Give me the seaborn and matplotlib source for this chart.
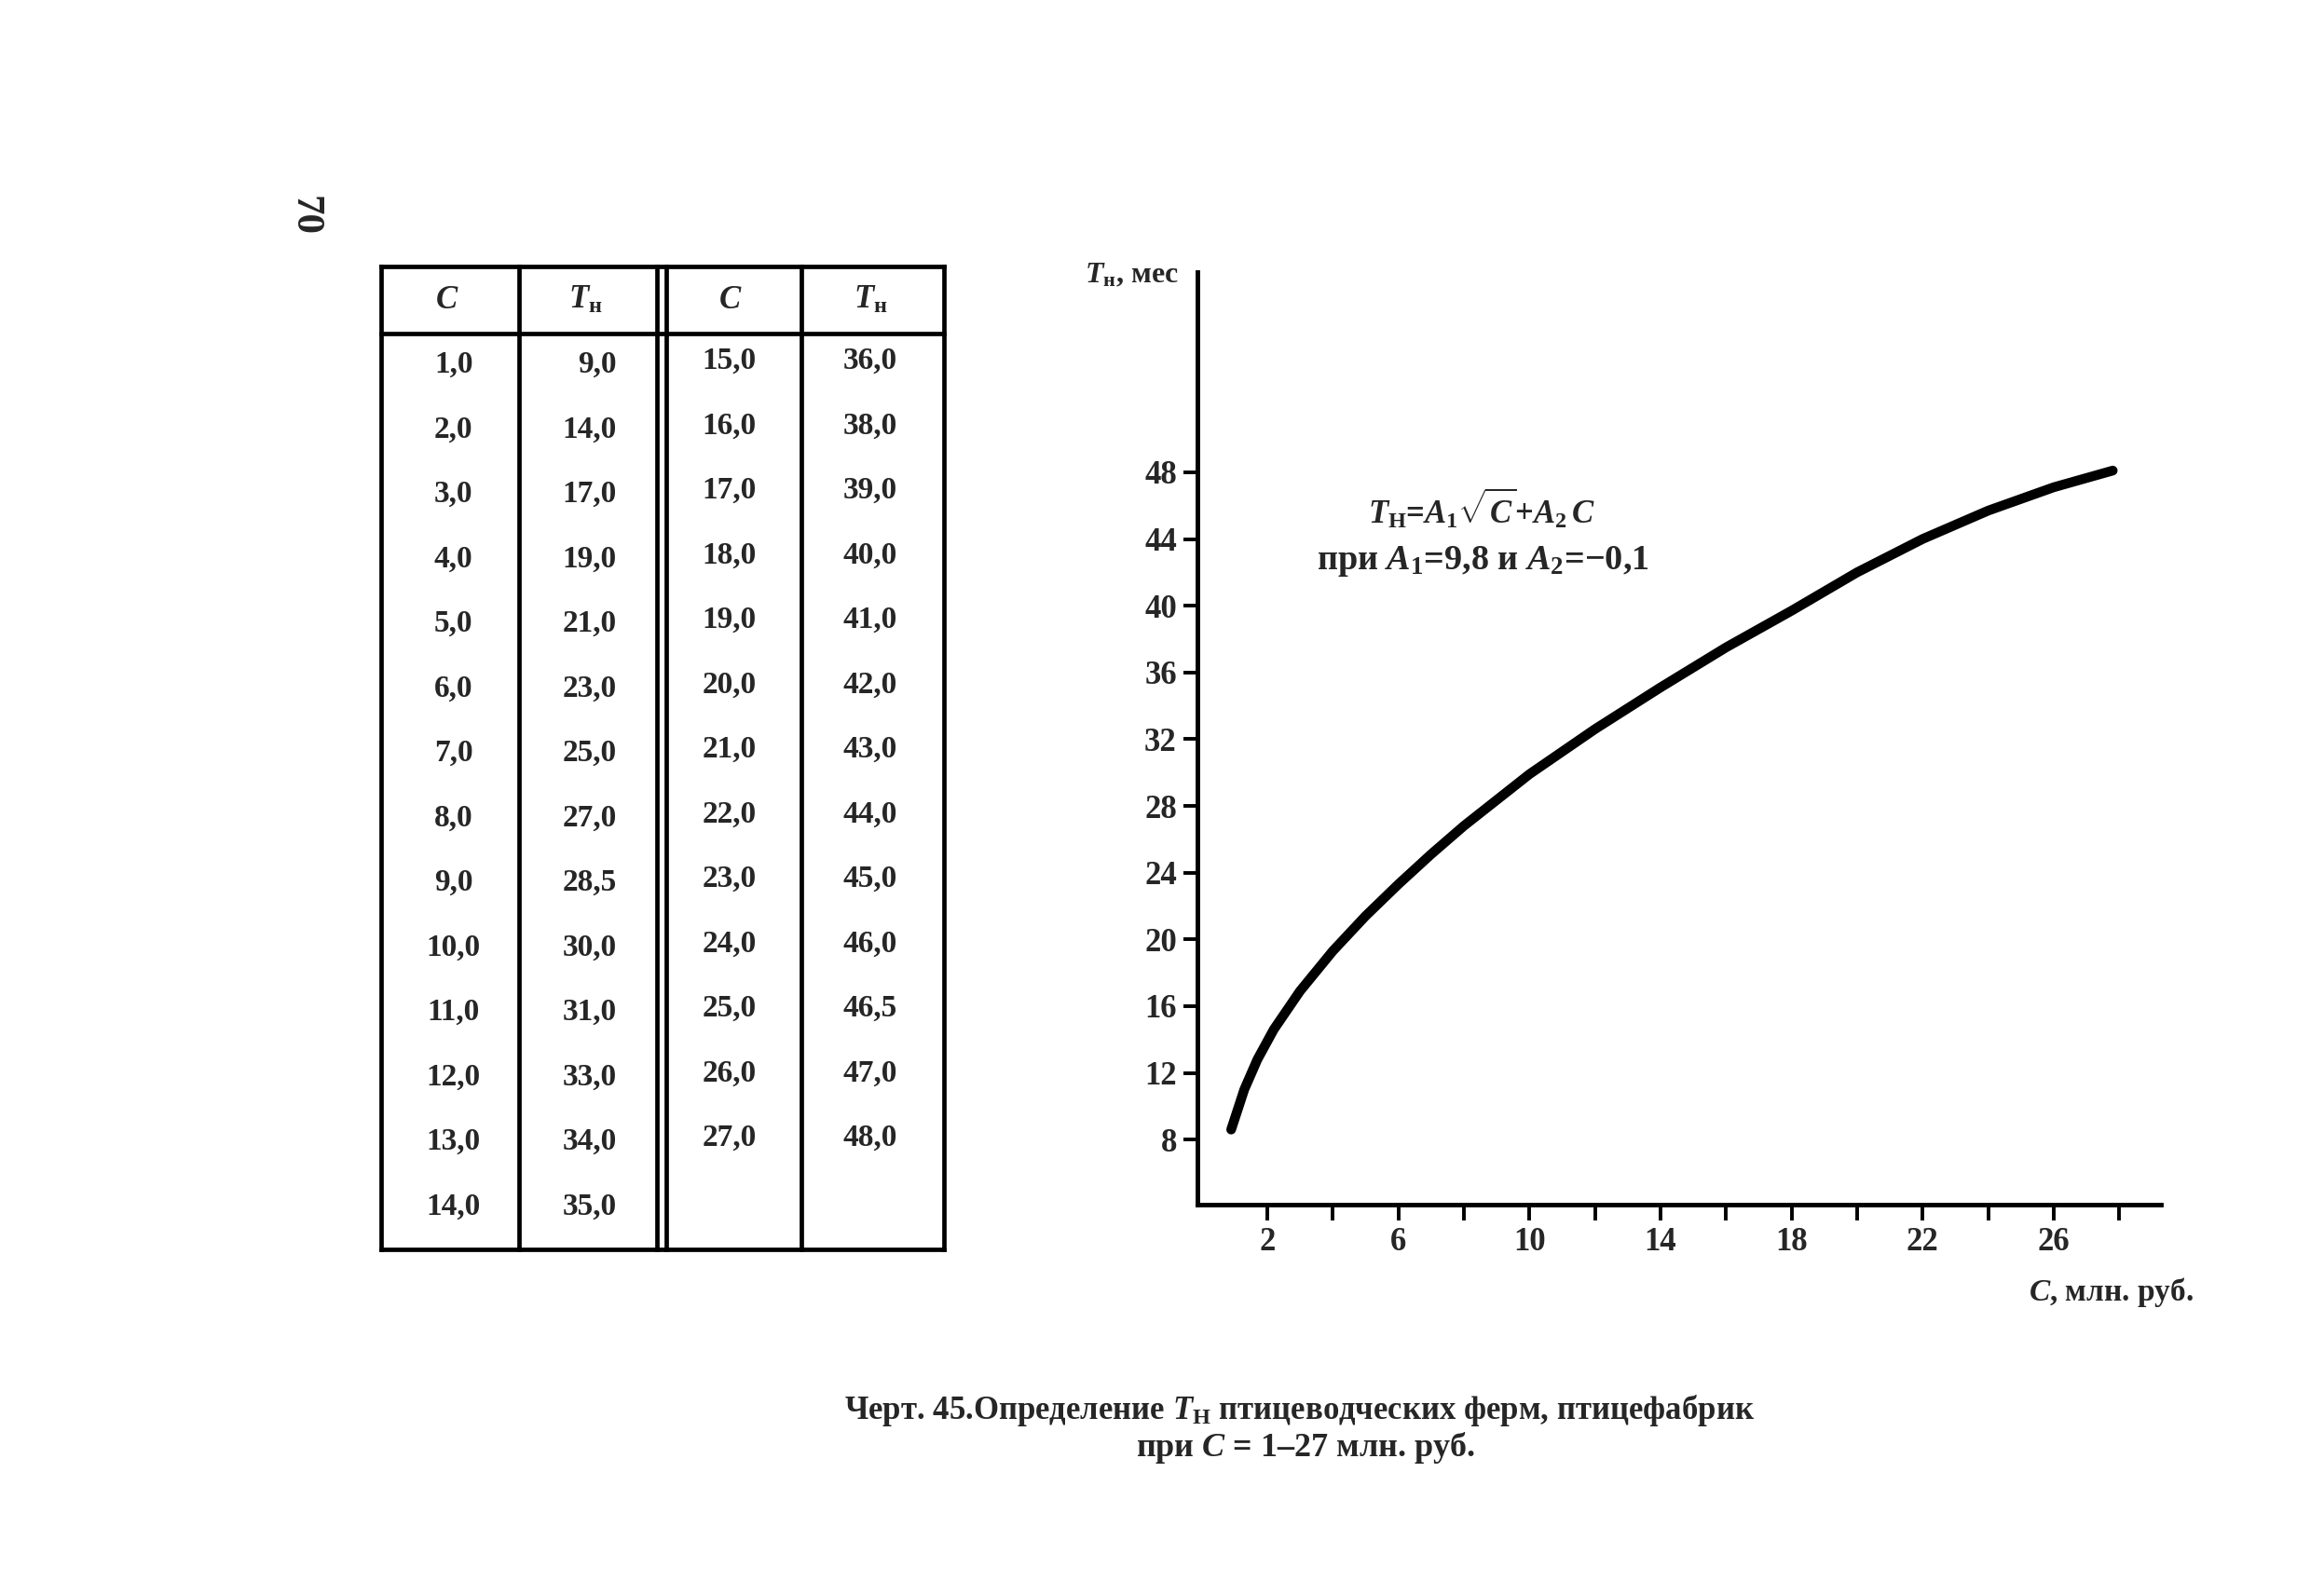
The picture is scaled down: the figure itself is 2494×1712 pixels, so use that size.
import matplotlib
matplotlib.use("Agg")
import matplotlib.pyplot as plt
import seaborn as sns
import numpy as np

# ---- data ----
table_c_left = [1.0, 2.0, 3.0, 4.0, 5.0, 6.0, 7.0, 8.0, 9.0, 10.0, 11.0, 12.0, 13.0, 14.0]
table_t_left = [9.0, 14.0, 17.0, 19.0, 21.0, 23.0, 25.0, 27.0, 28.5, 30.0, 31.0, 33.0, 34.0, 35.0]
table_c_right = [15.0, 16.0, 17.0, 18.0, 19.0, 20.0, 21.0, 22.0, 23.0, 24.0, 25.0, 26.0, 27.0]
table_t_right = [36.0, 38.0, 39.0, 40.0, 41.0, 42.0, 43.0, 44.0, 45.0, 46.0, 46.5, 47.0, 48.0]

curve_c = [0.9, 1.3, 1.7, 2.2, 3.0, 4.0, 5.0, 6.0, 7.0, 8.0, 10.0, 12.0, 14.0, 16.0,
           18.0, 20.0, 22.0, 24.0, 26.0, 27.8]
curve_t = [8.6, 11.0, 12.8, 14.6, 16.9, 19.3, 21.4, 23.3, 25.1, 26.8, 29.9, 32.6, 35.1, 37.5,
           39.7, 42.0, 44.0, 45.7, 47.1, 48.1]

x_major = [2, 6, 10, 14, 18, 22, 26]
x_minor = [4, 8, 12, 16, 20, 24, 28]
y_ticks = [8, 12, 16, 20, 24, 28, 32, 36, 40, 44, 48]

sns.set_theme(style="ticks")
plt.rcParams["font.family"] = ["Liberation Serif", "DejaVu Serif"]
plt.rcParams["font.weight"] = "bold"
plt.rcParams["mathtext.fontset"] = "custom"
plt.rcParams["mathtext.rm"] = "Liberation Serif:bold"
plt.rcParams["mathtext.it"] = "Liberation Serif:italic:bold"
plt.rcParams["mathtext.bf"] = "Liberation Serif:bold"
plt.rcParams["mathtext.default"] = "it"

W, H = 2494, 1712
fig = plt.figure(figsize=(W / 100, H / 100), dpi=100)
fig.patch.set_facecolor("white")

def fx(px):
    return px / W

def fy(py):
    return 1 - py / H

# ---- chart ----
ax = fig.add_axes([fx(1285), fy(1293), fx(2319) - fx(1285), fy(292) - fy(1293)])
ax.set_facecolor("white")
sns.lineplot(x=curve_c, y=curve_t, ax=ax, color="black", linewidth=7.5, sort=False)
for ln in ax.lines:
    ln.set_solid_capstyle("round")
    ln.set_solid_joinstyle("round")
ax.set_xlim(-0.13, 29.27)
ax.set_ylim(4.1, 60)
for s in ["top", "right"]:
    ax.spines[s].set_visible(False)
for s in ["left", "bottom"]:
    ax.spines[s].set_linewidth(3.5)
    ax.spines[s].set_color("black")
ax.set_xticks(x_major)
ax.set_xticks(x_minor, minor=True)
ax.set_xticklabels([str(v) for v in x_major])
ax.set_yticks(y_ticks)
ax.set_yticklabels([str(v) for v in y_ticks])
ax.tick_params(axis="x", which="both", direction="out", length=12, width=2.8, color="black", pad=5)
ax.tick_params(axis="x", labelsize=25)
ax.tick_params(axis="y", direction="out", length=11, width=2.8, color="black", pad=5, labelsize=25)
for lab in ax.get_xticklabels() + ax.get_yticklabels():
    lab.set_fontweight("bold")
ax.set_xlabel("")
ax.set_ylabel("")

fig.text(fx(1265), fy(296), "$T_{\\mathrm{н}}$, мес", ha="right", va="center", fontsize=23, fontweight="bold")
fig.text(fx(2354), fy(1387), "$C$, млн. руб.", ha="right", va="center", fontsize=24, fontweight="bold")
fig.text(fx(1590), fy(546), "$T_{\\mathrm{Н}}$=$A_{1}\\sqrt{C}$+$A_{2}\\,C$", ha="center", va="center",
         fontsize=25, fontweight="bold")
fig.text(fx(1591), fy(603), "при $A_{1}$=9,8 и $A_{2}$=−0,1", ha="center", va="center",
         fontsize=27.5, fontweight="bold")

# caption
fig.text(fx(1395), fy(1514), "Черт. 45.Определение $T_{\\mathrm{Н}}$ птицеводческих ферм, птицефабрик",
         ha="center", va="center", fontsize=25, fontweight="bold")
fig.text(fx(1401), fy(1554), "при $C$ = 1–27 млн. руб.", ha="center", va="center",
         fontsize=26, fontweight="bold")

# page number
fig.text(fx(326), fy(231), "70", ha="center", va="center", rotation=-90, fontsize=31, fontweight="bold")

# ---- table ----
tx0, tx1, ty0, ty1 = 409, 1013, 286, 1341
tab = fig.add_axes([fx(tx0), fy(ty1), fx(tx1) - fx(tx0), fy(ty0) - fy(ty1)])
tab.set_xlim(0, 4)
tab.set_ylim(14.14, -1.04)
tab.axis("off")
lw = 3.4
for yv in [-1.04, 0.0, 14.14]:
    tab.plot([0, 4], [yv, yv], color="black", lw=lw, clip_on=False, solid_capstyle="projecting")
for xv in [0.0, 0.98, 1.962, 2.025, 2.99, 4.0]:
    tab.plot([xv, xv], [-1.04, 14.14], color="black", lw=lw, clip_on=False, solid_capstyle="projecting")

hdr = ["$C$", "$T_{\\mathrm{н}}$", "$C$", "$T_{\\mathrm{н}}$"]
hdr_x = [0.47, 1.45, 2.48, 3.48]
for hx, h in zip(hdr_x, hdr):
    tab.text(hx, -0.52, h, ha="center", va="center", fontsize=25, fontweight="bold")

def fmt(v):
    return f"{v:.1f}".replace(".", ",")

row_y0 = 0.48
for i, (c, t) in enumerate(zip(table_c_left, table_t_left)):
    yy = row_y0 + i
    tab.text(0.515, yy, fmt(c), ha="center", va="center", fontsize=24, fontweight="bold")
    tab.text(1.673, yy, fmt(t), ha="right", va="center", fontsize=24, fontweight="bold")
for i, (c, t) in enumerate(zip(table_c_right, table_t_right)):
    yy = row_y0 + i - 0.06
    tab.text(2.474, yy, fmt(c), ha="center", va="center", fontsize=24, fontweight="bold")
    tab.text(3.475, yy, fmt(t), ha="center", va="center", fontsize=24, fontweight="bold")

fig.savefig("out.png", dpi=100, facecolor="white")
